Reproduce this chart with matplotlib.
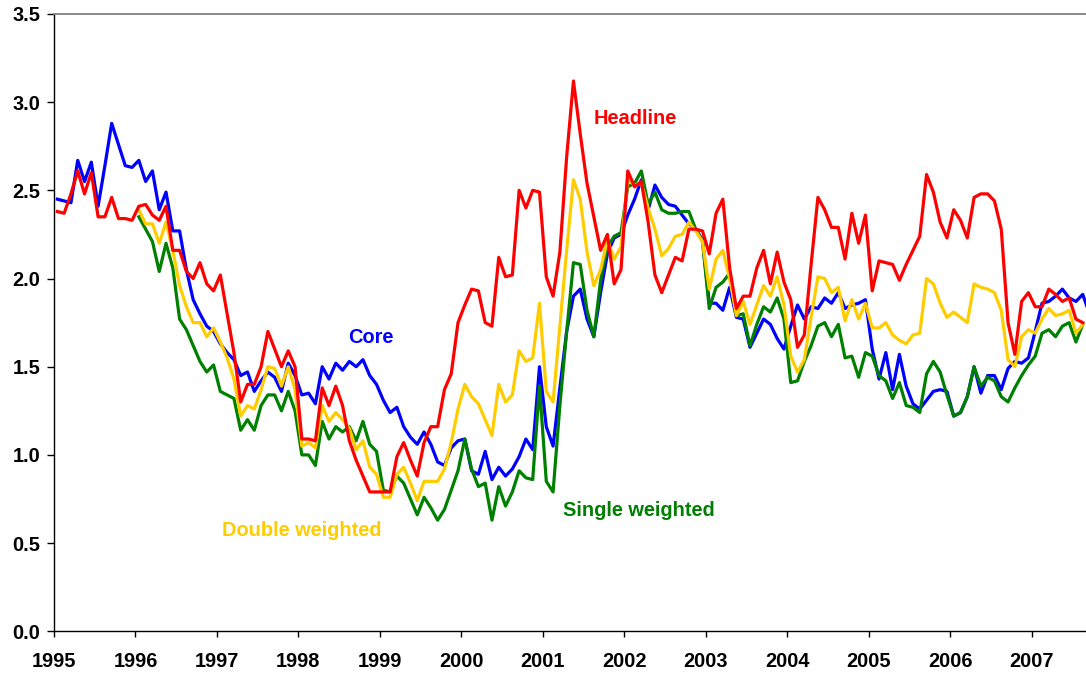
import numpy as np
import matplotlib
matplotlib.use("Agg")
import matplotlib.pyplot as plt

plt.rcParams['font.family'] = ['Liberation Sans', 'DejaVu Sans']

# monthly values, Core and Headline start Jan 1995, the weighted ones Jan 1996
core = [2.45, 2.44, 2.43, 2.67, 2.55, 2.66, 2.41, 2.64, 2.88, 2.76, 2.64, 2.63,
        2.67, 2.55, 2.61, 2.39, 2.49, 2.27, 2.27, 2.05, 1.88, 1.80, 1.73, 1.70,
        1.63, 1.58, 1.54, 1.45, 1.47, 1.36, 1.42, 1.47, 1.44, 1.36, 1.52, 1.45,
        1.34, 1.35, 1.29, 1.50, 1.43, 1.52, 1.48, 1.53, 1.50, 1.54, 1.45, 1.40,
        1.31, 1.24, 1.27, 1.16, 1.10, 1.06, 1.13, 1.06, 0.96, 0.94, 1.04, 1.08,
        1.09, 0.91, 0.89, 1.02, 0.86, 0.93, 0.88, 0.92, 0.99, 1.09, 1.03, 1.50,
        1.16, 1.05, 1.38, 1.70, 1.90, 1.94, 1.77, 1.67, 1.92, 2.14, 2.23, 2.25,
        2.36, 2.45, 2.56, 2.39, 2.53, 2.46, 2.42, 2.41, 2.36, 2.31, 2.28, 2.22,
        1.86, 1.86, 1.82, 1.95, 1.78, 1.77, 1.61, 1.69, 1.77, 1.74, 1.66, 1.60,
        1.73, 1.85, 1.77, 1.84, 1.83, 1.89, 1.86, 1.92, 1.83, 1.85, 1.86, 1.88,
        1.60, 1.43, 1.58, 1.37, 1.57, 1.39, 1.29, 1.26, 1.31, 1.36, 1.37, 1.36,
        1.22, 1.24, 1.33, 1.50, 1.35, 1.45, 1.45, 1.37, 1.49, 1.53, 1.52, 1.55,
        1.70, 1.86, 1.87, 1.90, 1.94, 1.89, 1.87, 1.91, 1.80]

headline = [2.38, 2.37, 2.48, 2.61, 2.48, 2.60, 2.35, 2.35, 2.46, 2.34, 2.34, 2.33,
            2.41, 2.42, 2.36, 2.33, 2.41, 2.16, 2.16, 2.04, 2.00, 2.09, 1.97, 1.93,
            2.02, 1.80, 1.58, 1.30, 1.40, 1.40, 1.50, 1.70, 1.60, 1.50, 1.59, 1.50,
            1.09, 1.09, 1.08, 1.38, 1.28, 1.39, 1.28, 1.08, 0.97, 0.88, 0.79, 0.79,
            0.79, 0.79, 0.99, 1.07, 0.97, 0.88, 1.07, 1.16, 1.16, 1.37, 1.46, 1.75,
            1.85, 1.94, 1.93, 1.75, 1.73, 2.12, 2.01, 2.02, 2.50, 2.40, 2.50, 2.49,
            2.01, 1.90, 2.15, 2.69, 3.12, 2.82, 2.54, 2.35, 2.16, 2.25, 1.97, 2.05,
            2.61, 2.52, 2.55, 2.32, 2.02, 1.92, 2.02, 2.12, 2.10, 2.28, 2.28, 2.27,
            2.14, 2.37, 2.45, 2.06, 1.83, 1.90, 1.90, 2.06, 2.16, 1.97, 2.15, 1.98,
            1.88, 1.61, 1.68, 2.08, 2.46, 2.39, 2.29, 2.29, 2.11, 2.37, 2.20, 2.36,
            1.93, 2.10, 2.09, 2.08, 1.99, 2.08, 2.16, 2.24, 2.59, 2.49, 2.32, 2.23,
            2.39, 2.33, 2.23, 2.46, 2.48, 2.48, 2.44, 2.28, 1.75, 1.57, 1.87, 1.92,
            1.84, 1.84, 1.94, 1.91, 1.87, 1.89, 1.77, 1.75]

double_w = [2.39, 2.31, 2.31, 2.20, 2.32, 2.16, 1.96, 1.84, 1.75, 1.75, 1.67, 1.72,
            1.64, 1.55, 1.43, 1.22, 1.28, 1.26, 1.37, 1.50, 1.49, 1.39, 1.50, 1.37,
            1.05, 1.07, 1.04, 1.28, 1.19, 1.24, 1.20, 1.15, 1.03, 1.08, 0.93, 0.89,
            0.76, 0.76, 0.89, 0.93, 0.84, 0.74, 0.85, 0.85, 0.85, 0.92, 1.07, 1.26,
            1.40, 1.33, 1.29, 1.20, 1.11, 1.40, 1.30, 1.34, 1.59, 1.53, 1.55, 1.86,
            1.36, 1.30, 1.73, 2.16, 2.56, 2.45, 2.15, 1.96, 2.05, 2.22, 2.11, 2.18,
            2.56, 2.53, 2.54, 2.40, 2.28, 2.13, 2.17, 2.24, 2.25, 2.32, 2.27, 2.21,
            1.94, 2.11, 2.16, 2.00, 1.79, 1.87, 1.74, 1.85, 1.96, 1.90, 2.01, 1.85,
            1.56, 1.47, 1.54, 1.78, 2.01, 2.00, 1.92, 1.95, 1.76, 1.88, 1.77, 1.86,
            1.72, 1.72, 1.75, 1.68, 1.65, 1.63, 1.68, 1.69, 2.00, 1.97, 1.86, 1.78,
            1.81, 1.78, 1.75, 1.97, 1.95, 1.94, 1.92, 1.82, 1.54, 1.50, 1.67, 1.71,
            1.69, 1.77, 1.83, 1.79, 1.80, 1.82, 1.69, 1.74]

single_w = [2.35, 2.28, 2.21, 2.04, 2.20, 2.06, 1.77, 1.71, 1.62, 1.53, 1.47, 1.51,
            1.36, 1.34, 1.32, 1.14, 1.20, 1.14, 1.28, 1.34, 1.34, 1.25, 1.36, 1.25,
            1.00, 1.00, 0.94, 1.19, 1.09, 1.16, 1.13, 1.16, 1.08, 1.19, 1.06, 1.02,
            0.80, 0.79, 0.88, 0.84, 0.75, 0.66, 0.76, 0.70, 0.63, 0.69, 0.80, 0.91,
            1.09, 0.92, 0.82, 0.84, 0.63, 0.82, 0.71, 0.79, 0.91, 0.87, 0.86, 1.39,
            0.85, 0.79, 1.28, 1.70, 2.09, 2.08, 1.82, 1.67, 1.99, 2.18, 2.24, 2.26,
            2.52, 2.54, 2.61, 2.42, 2.49, 2.39, 2.37, 2.37, 2.38, 2.38, 2.28, 2.21,
            1.83, 1.95, 1.98, 2.03, 1.79, 1.80, 1.62, 1.74, 1.84, 1.81, 1.89, 1.77,
            1.41, 1.42, 1.53, 1.62, 1.73, 1.75, 1.67, 1.74, 1.55, 1.56, 1.44, 1.58,
            1.56, 1.45, 1.42, 1.32, 1.41, 1.28, 1.27, 1.24, 1.46, 1.53, 1.47, 1.34,
            1.22, 1.24, 1.33, 1.50, 1.39, 1.44, 1.42, 1.33, 1.30, 1.38, 1.45, 1.51,
            1.56, 1.69, 1.71, 1.67, 1.73, 1.75, 1.64, 1.74]

years = list(range(1995, 2008))
y_ticks = [0.0, 0.5, 1.0, 1.5, 2.0, 2.5, 3.0, 3.5]


def months(start_year, n):
    # mid-month positions as fractional years
    return start_year + (np.arange(n) + 0.5) / 12.0


fig = plt.figure(figsize=(10.86, 6.79), dpi=100)
ax = fig.add_axes([0.0497, 0.0703, 0.9503, 0.9091])

ax.plot(months(1995, len(core)), core, color='#0000FF', lw=2.3, zorder=3)
ax.plot(months(1996, len(single_w)), single_w, color='#008000', lw=2.3, zorder=3)
ax.plot(months(1996, len(double_w)), double_w, color='#FFCC00', lw=2.3, zorder=3)
ax.plot(months(1995, len(headline)), headline, color='#FF0000', lw=2.3, zorder=4)

ax.set_xlim(1995, 2007.665)
ax.set_ylim(0, 3.5)
ax.set_xticks(years)
ax.set_xticklabels([str(y) for y in years])
ax.set_yticks(y_ticks)
ax.set_yticklabels(['%.1f' % v for v in y_ticks])

for lab in ax.get_xticklabels() + ax.get_yticklabels():
    lab.set_fontweight('bold')
    lab.set_fontsize(14.4)

ax.tick_params(axis='x', direction='out', length=4, width=1, pad=11)
ax.tick_params(axis='y', direction='out', length=5, width=1, pad=5)

ax.spines['right'].set_visible(False)
ax.spines['top'].set_color('#808080')
ax.spines['top'].set_linewidth(1.3)
ax.spines['left'].set_linewidth(1)
ax.spines['bottom'].set_linewidth(1)

lbl = dict(fontsize=14.4, fontweight='bold', ha='left', va='center')
ax.text(2001.626, 2.91, 'Headline', color='#FF0000', **lbl)
ax.text(1998.607, 1.663, 'Core', color='#0000FF', **lbl)
ax.text(1997.061, 0.574, 'Double weighted', color='#FFCC00', **lbl)
ax.text(2001.245, 0.687, 'Single weighted', color='#008000', **lbl)

fig.savefig('out.png', dpi=100)
